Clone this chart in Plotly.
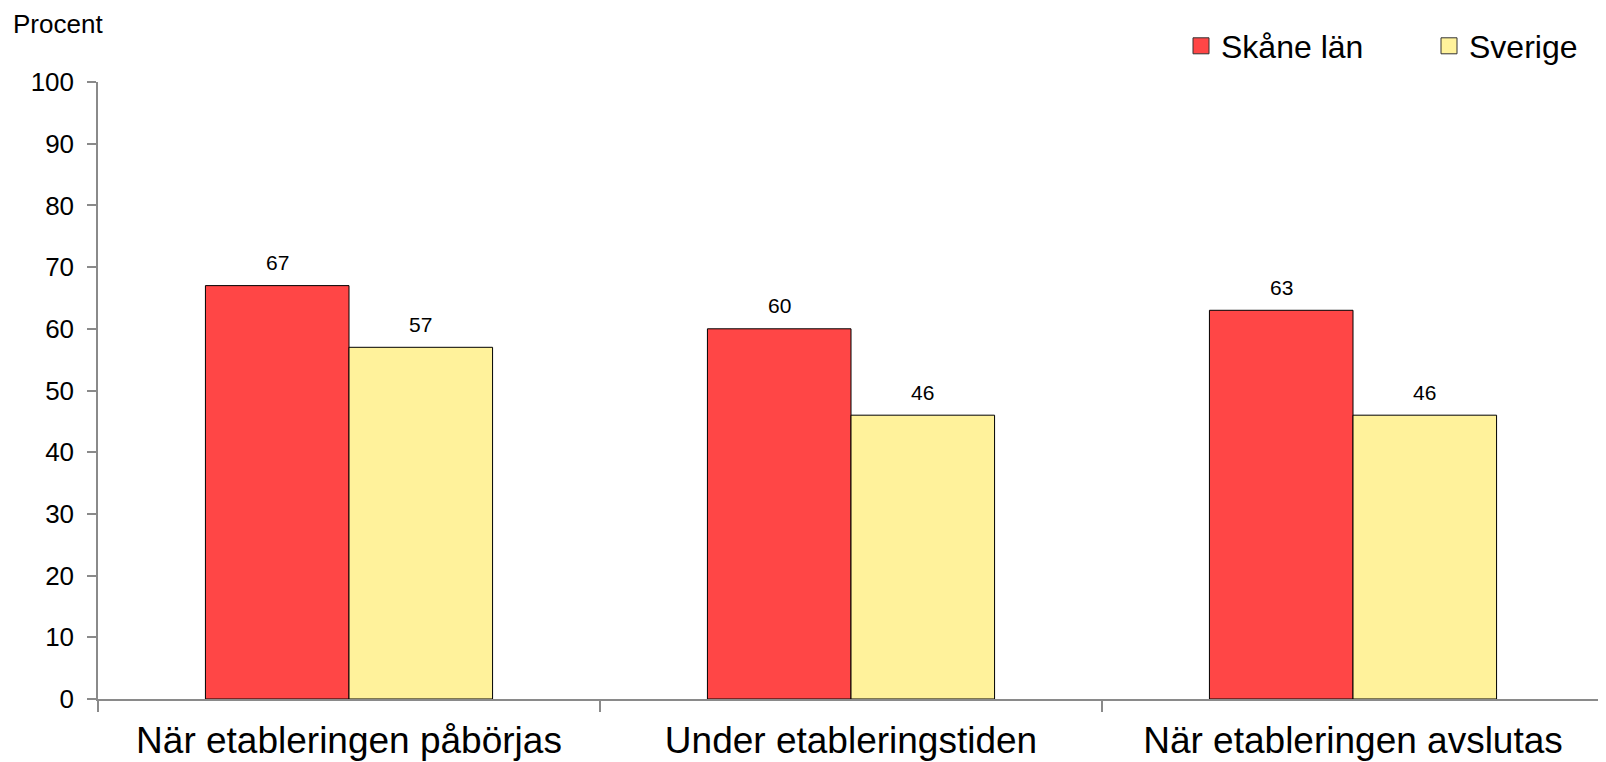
import plotly.graph_objects as go

categories = ["När etableringen påbörjas", "Under etableringstiden", "När etableringen avslutas"]
skane = [67, 60, 63]
sverige = [57, 46, 46]
y_ticks = list(range(0, 101, 10))

FONT = "Arial, 'Liberation Sans', sans-serif"
RED = "#FF4646"
YELLOW = "#FFF29B"
AXIS = "#8A8A8A"

# the page body adds an 8px margin, so the figure is 8px smaller than the window
W, H = 1598, 754
M_L, M_R, M_T, M_B = 90, 2, 74, 63
BARGAP = 0.428

fig = go.Figure()

fig.add_trace(go.Bar(x=categories, y=skane, name="Skåne län", showlegend=False,
                     marker=dict(color=RED, line=dict(color="black", width=1))))
fig.add_trace(go.Bar(x=categories, y=sverige, name="Sverige", showlegend=False,
                     marker=dict(color=YELLOW, line=dict(color="black", width=1))))

# legend symbols (larger squares than the default bar swatch)
for name, col in [("Skåne län", RED), ("Sverige", YELLOW)]:
    fig.add_trace(go.Scatter(x=[None], y=[None], mode="markers", name=name,
                             marker=dict(symbol="square", size=16, color=col,
                                         line=dict(color="#333333", width=1))))

# value labels above the bars
plot_w = W - M_L - M_R
plot_h = H - M_T - M_B
bar_w = plot_w / len(categories) * (1 - BARGAP) / 2
for vals, shift in [(skane, -bar_w / 2), (sverige, bar_w / 2)]:
    for c, v in zip(categories, vals):
        fig.add_annotation(x=c, y=v, text=str(v), showarrow=False, xshift=shift,
                           yanchor="middle", yshift=23,
                           font=dict(family=FONT, size=21, color="black"))

fig.add_annotation(xref="paper", yref="paper", x=(4 - M_L) / plot_w, y=1 + M_T / plot_h,
                   xanchor="left", yanchor="top", text="Procent", showarrow=False, borderpad=0,
                   font=dict(family=FONT, size=26, color="black"))

fig.update_layout(
    width=W, height=H,
    margin=dict(l=M_L, r=M_R, t=M_T, b=M_B, autoexpand=False),
    paper_bgcolor="white", plot_bgcolor="white",
    barmode="group", bargap=BARGAP, bargroupgap=0,
    font=dict(family=FONT, color="black"),
    legend=dict(orientation="h", xref="container", yref="container",
                x=1173 / W, xanchor="left", y=1 - 38 / H, yanchor="middle",
                font=dict(family=FONT, size=32, color="black"),
                entrywidth=203, bgcolor="rgba(0,0,0,0)"),
)

fig.update_xaxes(showline=True, linecolor=AXIS, linewidth=1.5, showgrid=False, automargin=False,
                 ticks="outside", tickson="boundaries", ticklen=11, tickcolor=AXIS, tickwidth=1.5,
                 ticklabelstandoff=8,
                 tickfont=dict(family=FONT, size=37, color="black"))
fig.update_yaxes(range=[0, 100], tickvals=y_ticks, showline=True, linecolor=AXIS, linewidth=1.5,
                 showgrid=False, zeroline=False, automargin=False,
                 ticks="outside", ticklen=9, tickcolor=AXIS, tickwidth=1.5,
                 ticklabelstandoff=8,
                 tickfont=dict(family=FONT, size=26, color="black"))

fig.write_html("out.html")
